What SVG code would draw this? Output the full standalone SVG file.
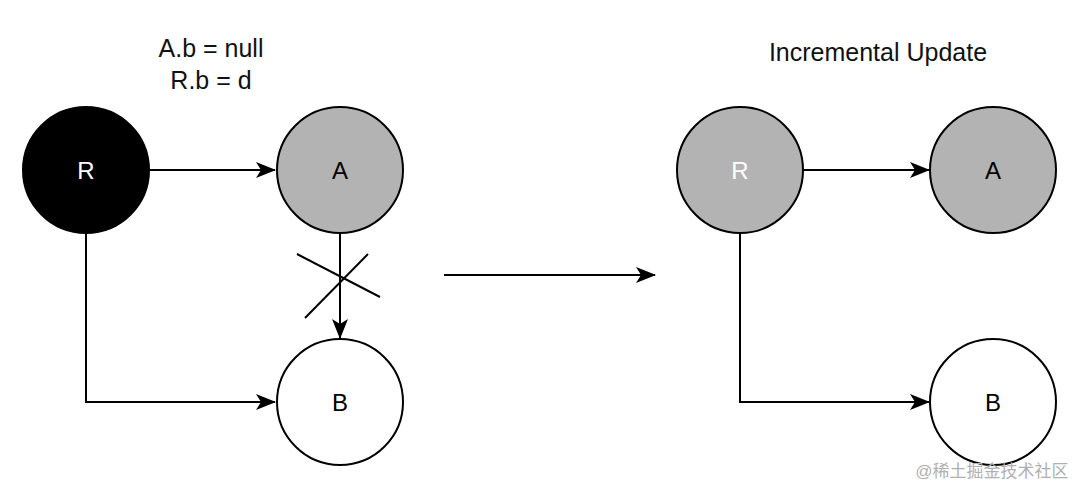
<svg xmlns="http://www.w3.org/2000/svg" width="1080" height="488" viewBox="0 0 1080 488">
<style>
.node{stroke:#000;stroke-width:2}
.lbl{font-family:"Liberation Sans",Arial,sans-serif;font-size:24px;text-anchor:middle;dominant-baseline:central}
.title{font-family:"Liberation Sans",Arial,sans-serif;font-size:25px;text-anchor:middle;fill:#111}
.edge{fill:none;stroke:#000;stroke-width:2}
</style>
<defs>
<marker id="arr" viewBox="0 0 20 16" refX="19" refY="8" markerWidth="20" markerHeight="16" markerUnits="userSpaceOnUse" orient="auto">
<path d="M0,0 L20,8 L0,16 L5,8 Z" fill="#000"/>
</marker>
</defs>
<rect width="1080" height="488" fill="#fff"/>
<text class="title" x="211" y="57">A.b = null</text>
<text class="title" x="211" y="89">R.b = d</text>
<text class="title" x="878" y="61">Incremental Update</text>
<g id="connectors">
<path class="edge" d="M150,170 H275" marker-end="url(#arr)"/>
<path class="edge" d="M86,234 V402 H275" marker-end="url(#arr)"/>
<path class="edge" d="M340,233 V338" marker-end="url(#arr)"/>
<path class="edge" d="M444,275 H655" marker-end="url(#arr)"/>
<path class="edge" d="M803,170 H929" marker-end="url(#arr)"/>
<path class="edge" d="M740,233 V402 H929" marker-end="url(#arr)"/>
<line class="edge" x1="297" y1="254" x2="380" y2="297"/>
<line class="edge" x1="305" y1="318" x2="368" y2="254"/>
</g>
<g id="node-R1"><circle class="node" cx="86" cy="170" r="63" fill="#000"/><text class="lbl" x="86" y="170" fill="#fff">R</text></g>
<g id="node-A1"><circle class="node" cx="340" cy="170" r="63" fill="#b3b3b3"/><text class="lbl" x="340" y="170" fill="#000">A</text></g>
<g id="node-B1"><circle class="node" cx="340" cy="402" r="63" fill="#fff"/><text class="lbl" x="340" y="402" fill="#000">B</text></g>
<g id="node-R2"><circle class="node" cx="740" cy="170" r="63" fill="#b3b3b3"/><text class="lbl" x="740" y="170" fill="#fff">R</text></g>
<g id="node-A2"><circle class="node" cx="993" cy="170" r="63" fill="#b3b3b3"/><text class="lbl" x="993" y="170" fill="#000">A</text></g>
<g id="node-B2"><circle class="node" cx="993" cy="402" r="63" fill="#fff"/><text class="lbl" x="993" y="402" fill="#000">B</text></g>
<text x="992" y="477" font-family="'Liberation Sans','Noto Sans CJK SC',sans-serif" font-size="17" fill="#b0b0b0" text-anchor="middle">@稀土掘金技术社区</text>
</svg>
